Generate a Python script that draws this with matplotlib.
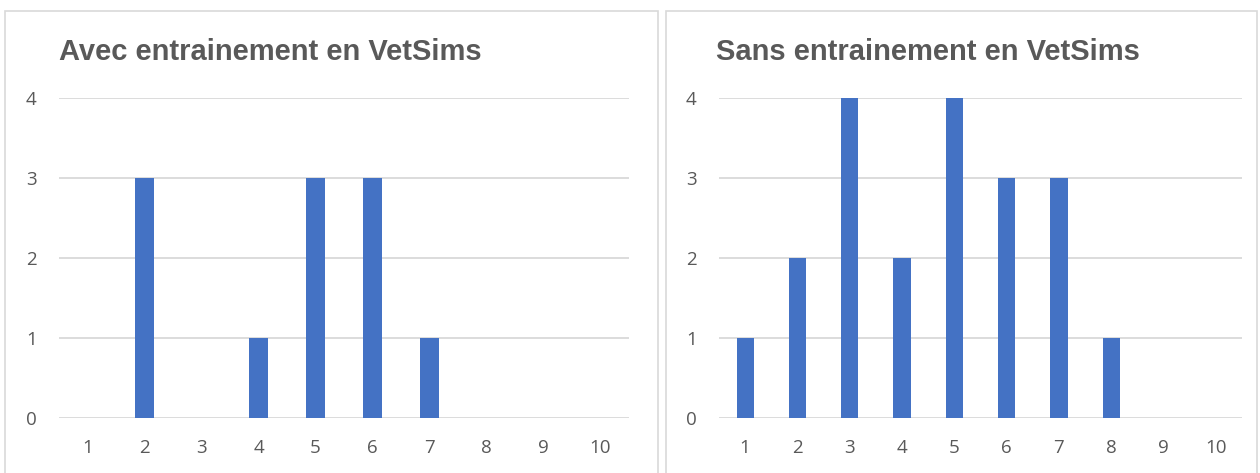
import matplotlib
matplotlib.use("Agg")
import matplotlib.pyplot as plt
from matplotlib.patches import Rectangle
import numpy as np

categories = ["1", "2", "3", "4", "5", "6", "7", "8", "9", "10"]
avec_counts = [0, 3, 0, 1, 3, 3, 1, 0, 0, 0]
sans_counts = [1, 2, 4, 2, 4, 3, 3, 1, 0, 0]
titles = ["Avec entrainement en VetSims", "Sans entrainement en VetSims"]

BAR_COLOR = "#4472c4"
TEXT_COLOR = "#595959"
GRID_COLOR = "#d9d9d9"

W, H = 1260, 473
fig = plt.figure(figsize=(W / 100, H / 100), dpi=100)
fig.patch.set_facecolor("white")

# panel frames (left, right) in pixel coordinates
frames = [(5, 11, 653, 470), (666, 11, 591, 470)]
axes_px = [(59, 98, 570, 320), (719, 98, 523, 320)]
title_px = [(59, 52), (716, 52)]

for frame, box, tpos, title, counts in zip(frames, axes_px, title_px, titles,
                                           [avec_counts, sans_counts]):
    fx, fy, fw, fh = frame
    fig.patches.append(Rectangle((fx / W, 1 - (fy + fh) / H), fw / W, fh / H,
                                 transform=fig.transFigure, fill=False,
                                 edgecolor="#d9d9d9", linewidth=1.2))
    x0, y0, w, h = box
    ax = fig.add_axes([x0 / W, 1 - (y0 + h) / H, w / W, h / H])
    x = np.arange(len(categories))
    ax.bar(x, counts, width=0.33, color=BAR_COLOR, zorder=3)
    ax.set_xlim(-0.5, len(categories) - 0.5)
    ax.set_ylim(0, 4)
    ax.set_yticks(range(5))
    ax.set_xticks(x)
    ax.set_xticklabels(categories)
    ax.grid(axis="y", color=GRID_COLOR, linewidth=1.3, zorder=0)
    ax.tick_params(length=0, labelsize=13.5, labelcolor=TEXT_COLOR)
    ax.tick_params(axis="y", pad=16)
    ax.tick_params(axis="x", pad=15)
    for lab in ax.get_xticklabels() + ax.get_yticklabels():
        lab.set_fontfamily("Open Sans")
    for spine in ax.spines.values():
        spine.set_visible(False)
    ax.set_facecolor("none")
    fig.text(tpos[0] / W, 1 - tpos[1] / H, title, fontsize=21, fontweight="bold",
             color=TEXT_COLOR, family="Liberation Sans", va="center", ha="left")

plt.savefig("out.png", dpi=100)
